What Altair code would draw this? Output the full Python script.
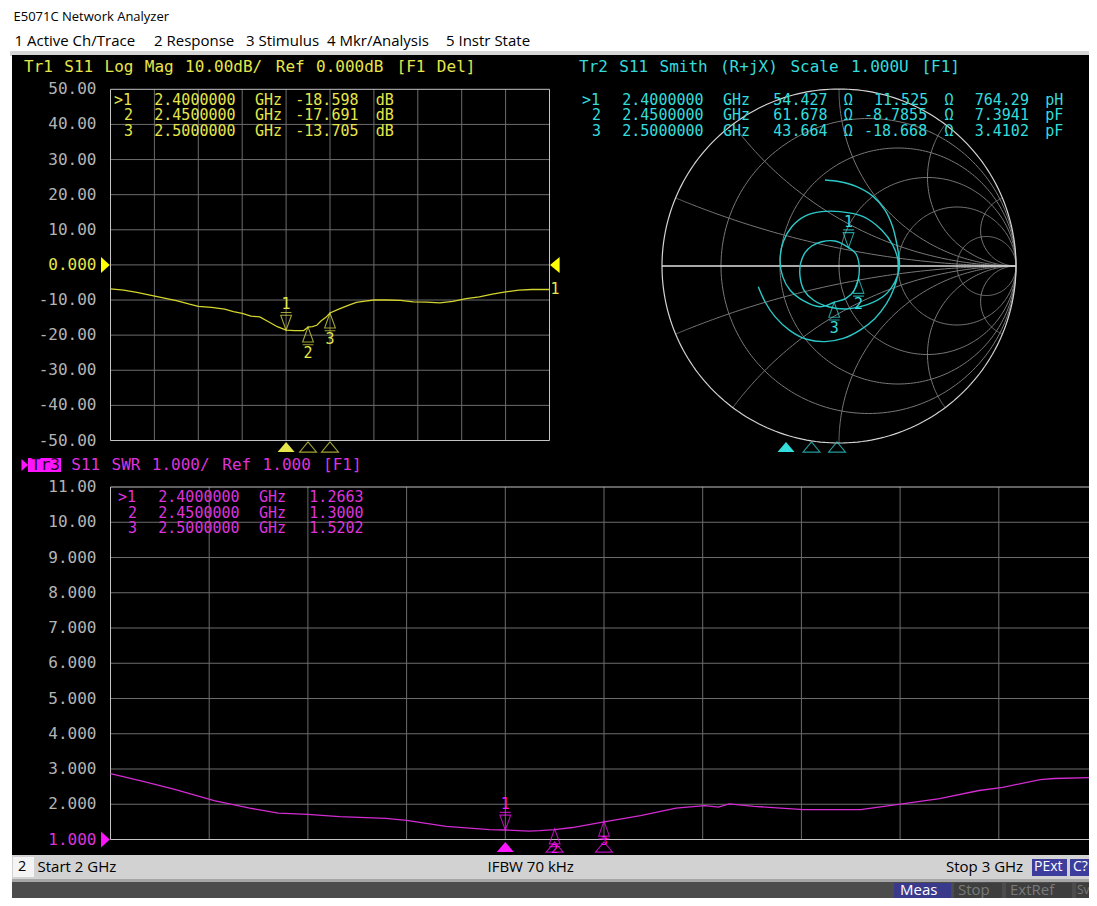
import re
import numpy as np
import pandas as pd
import altair as alt

# ---------------- data ----------------
lm_freq = [2.00, 2.03, 2.06, 2.09, 2.12, 2.15, 2.18, 2.20, 2.23, 2.26, 2.28, 2.30, 2.32, 2.34,
           2.36, 2.38, 2.40, 2.42, 2.44, 2.45, 2.46, 2.47, 2.48, 2.49, 2.50, 2.52, 2.54, 2.56,
           2.58, 2.60, 2.63, 2.66, 2.69, 2.72, 2.75, 2.78, 2.81, 2.84, 2.87, 2.90, 2.93, 2.96, 3.00]
lm_db = [-6.8, -7.2, -7.8, -8.6, -9.4, -10.2, -11.2, -11.8, -12.1, -12.6, -13.3, -13.8, -14.6, -14.8,
         -16.2, -17.6, -18.6, -18.7, -18.7, -17.7, -17.6, -17.2, -15.9, -15.0, -13.7, -12.6, -11.6, -10.7,
         -10.3, -10.0, -10.0, -10.1, -10.5, -10.6, -10.8, -10.4, -9.6, -9.1, -8.3, -7.7, -7.2, -7.0, -7.0]

swr_freq = [2.000, 2.033, 2.065, 2.105, 2.141, 2.170, 2.200, 2.232, 2.279, 2.300, 2.340, 2.384,
            2.400, 2.424, 2.435, 2.450, 2.468, 2.500, 2.537, 2.573, 2.602, 2.616, 2.627, 2.652,
            2.702, 2.760, 2.802, 2.840, 2.880, 2.904, 2.942, 2.956, 3.000]
swr_val = [2.87, 2.65, 2.42, 2.10, 1.89, 1.75, 1.71, 1.65, 1.60, 1.54, 1.37, 1.28,
           1.27, 1.24, 1.25, 1.28, 1.34, 1.50, 1.68, 1.89, 1.96, 1.92, 2.01, 1.94,
           1.85, 1.85, 2.01, 2.16, 2.39, 2.48, 2.70, 2.73, 2.76]

smith_re = [-0.079, 0.006, 0.100, 0.194, 0.260, 0.303, 0.326, 0.341, 0.339, 0.316, 0.260, 0.156,
            0.043, -0.060, -0.145, -0.198, -0.220, -0.217, -0.192, -0.154, -0.098, -0.023, 0.054,
            0.096, 0.113, 0.110, 0.085, 0.040, -0.027, -0.107, -0.202, -0.277, -0.318, -0.333,
            -0.315, -0.267, -0.192, -0.098, 0.006, 0.137, 0.241, 0.303, 0.333, 0.333, 0.311,
            0.269, 0.203, 0.119, 0.024, -0.079, -0.183, -0.277, -0.362, -0.418, -0.456]
smith_im = [0.486, 0.476, 0.448, 0.392, 0.316, 0.222, 0.128, 0.034, -0.023, -0.089, -0.164, -0.220,
            -0.243, -0.230, -0.192, -0.136, -0.060, 0.015, 0.075, 0.113, 0.137, 0.141, 0.104,
            0.068, 0.011, -0.070, -0.139, -0.183, -0.205, -0.230, -0.196, -0.136, -0.060, 0.034,
            0.137, 0.222, 0.282, 0.307, 0.307, 0.279, 0.203, 0.119, 0.034, -0.041, -0.126,
            -0.211, -0.296, -0.362, -0.409, -0.427, -0.414, -0.365, -0.286, -0.202, -0.117]

mk_name = ["1", "2", "3"]
mk_freq = [2.40, 2.45, 2.50]
mk_lm = [-18.598, -17.691, -13.705]
mk_swr = [1.2663, 1.3000, 1.5202]
mk_re = [0.054, 0.110, -0.027]
mk_im = [0.104, -0.070, -0.205]

lm_ticks = [50, 40, 30, 20, 10, 0, -10, -20, -30, -40, -50]
lm_tick_labels = ["50.00", "40.00", "30.00", "20.00", "10.00", "0.000",
                  "-10.00", "-20.00", "-30.00", "-40.00", "-50.00"]
swr_ticks = [11, 10, 9, 8, 7, 6, 5, 4, 3, 2, 1]
swr_tick_labels = ["11.00", "10.00", "9.000", "8.000", "7.000", "6.000",
                   "5.000", "4.000", "3.000", "2.000", "1.000"]
freq_grid = [2.1, 2.2, 2.3, 2.4, 2.5, 2.6, 2.7, 2.8, 2.9]
smith_r_grid = [0.2, 0.5, 1.0, 2.0, 5.0]
smith_x_grid = [0.2, 0.5, 1.0, 2.0, 5.0]

lm_title = "Tr1 S11 Log Mag 10.00dB/ Ref 0.000dB [F1 Del]"
lm_rows = [">1  2.4000000 GHz -18.598 dB",
           " 2  2.4500000 GHz -17.691 dB",
           " 3  2.5000000 GHz -13.705 dB"]
sm_title = "Tr2 S11 Smith (R+jX) Scale 1.000U [F1]"
sm_rows = [">1  2.4000000 GHz  54.427 Ω  11.525 Ω  764.29 pH",
           " 2  2.4500000 GHz  61.678 Ω -8.7855 Ω  7.3941 pF",
           " 3  2.5000000 GHz  43.664 Ω -18.668 Ω  3.4102 pF"]
swr_title = "Tr3 S11 SWR 1.000/ Ref 1.000 [F1]"
swr_rows = [">1  2.4000000 GHz  1.2663",
            " 2  2.4500000 GHz  1.3000",
            " 3  2.5000000 GHz  1.5202"]

window_title = "E5071C Network Analyzer"
menu_items = ["1 Active Ch/Trace", "2 Response", "3 Stimulus", "4 Mkr/Analysis", "5 Instr State"]
status_left = ["2", "Start 2 GHz"]
status_mid = "IFBW 70 kHz"
status_right = ["Stop 3 GHz", "PExt", "C?"]
soft_keys = ["Meas", "Stop", "ExtRef", "Sv"]

# ---------------- layout (screenshot pixels) ----------------
O = 8
def c(v):
    return v - O

MONO = "DejaVu Sans Mono"
SANS = "Open Sans"
PITCH = 10.07

LM_X = (110.5, 549.5); LM_Y = (440.5, 89.3)
SW_X = (110.5, 1097.5); SW_Y = (839.5, 487.0)
SM_CX, SM_CY, SM_R = 839.0, 266.0, 177.0
SM_F = (582.0, 1092.0)

GRID = "#6c6c6c"; BORDER = "#c4c4c4"; LABEL = "#b4b4b4"
YEL_T = "#e6e64a"; YEL_L = "#d4d42e"
CYA_T = "#34dcdc"; CYA_L = "#2cc8c8"
MAG_T = "#dc34dc"; MAG_L = "#d22cd2"; MAG_BOX = "#ff14ff"


def scale(dom, rng):
    return alt.Scale(domain=list(dom), range=[c(r) for r in rng], nice=False, zero=False)


sx_lm = scale((2, 3), LM_X); sy_lm = scale((-50, 50), LM_Y)
sx_sw = scale((2, 3), SW_X); sy_sw = scale((1, 11), SW_Y)
sx_sm = scale((-1, 1), (SM_CX - SM_R, SM_CX + SM_R))
sy_sm = scale((-1, 1), (SM_CY + SM_R, SM_CY - SM_R))
sx_smf = scale((2, 3), SM_F)

dummy = pd.DataFrame({"d": [0]})
layers = []


def rect_layer(rects):
    df = pd.DataFrame([dict(x=c(a), x2=c(b), y=c(y0), y2=c(y1), col=col) for a, b, y0, y1, col in rects])
    return alt.Chart(df).mark_rect().encode(
        x=alt.X("x:Q", scale=None, axis=None), x2="x2:Q",
        y=alt.Y("y:Q", scale=None, axis=None), y2="y2:Q",
        color=alt.Color("col:N", scale=None))


# ---------------- background rectangles ----------------
layers.append(rect_layer([
    (10, 1097, 51, 56, "#d6d6d6"),
    (12, 1097, 55, 855, "#000000"),
    (28, 61, 458, 472, MAG_BOX),
]))

# ---------------- grids and borders ----------------
def cart_grid(sx, sy, xr, yr, ticks, dom_x, dom_y):
    out = []
    out.append(alt.Chart(pd.DataFrame({"f": freq_grid})).mark_rule(color=GRID, strokeWidth=1).encode(
        x=alt.X("f:Q", scale=sx, axis=None), y=alt.value(c(yr[1])), y2=alt.value(c(yr[0]))))
    inner = [t for t in ticks if t not in (min(ticks), max(ticks))]
    out.append(alt.Chart(pd.DataFrame({"v": inner})).mark_rule(color=GRID, strokeWidth=1).encode(
        y=alt.Y("v:Q", scale=sy, axis=None), x=alt.value(c(xr[0])), x2=alt.value(c(xr[1]))))
    out.append(alt.Chart(pd.DataFrame({"a": [dom_x[0]], "b": [dom_x[1]], "lo": [dom_y[0]], "hi": [dom_y[1]]}))
               .mark_rect(fillOpacity=0, stroke=BORDER, strokeWidth=1).encode(
        x=alt.X("a:Q", scale=sx, axis=None), x2="b:Q",
        y=alt.Y("lo:Q", scale=sy, axis=None), y2="hi:Q"))
    return out

layers += cart_grid(sx_lm, sy_lm, LM_X, LM_Y, lm_ticks, (2, 3), (-50, 50))
layers += cart_grid(sx_sw, sy_sw, SW_X, SW_Y, swr_ticks, (2, 3), (1, 11))

# Smith chart grid
rows = []
gid = 0
th = np.linspace(0, 2 * np.pi, 241)
for r in smith_r_grid:
    cx, rad = r / (r + 1), 1 / (r + 1)
    for i, t in enumerate(th):
        rows.append(dict(gx=cx + rad * np.cos(t), gy=rad * np.sin(t), id=gid, i=i))
    gid += 1
rr = np.concatenate([[0.0], np.logspace(-2.5, 3.5, 220)])
for xv in smith_x_grid:
    for s in (1, -1):
        z = rr + 1j * s * xv
        g = (z - 1) / (z + 1)
        for i, gg in enumerate(g):
            rows.append(dict(gx=gg.real, gy=gg.imag, id=gid, i=i))
        gid += 1
df_sg = pd.DataFrame(rows)
layers.append(alt.Chart(df_sg).mark_line(color="#787878", strokeWidth=1).encode(
    x=alt.X("gx:Q", scale=sx_sm, axis=None), y=alt.Y("gy:Q", scale=sy_sm, axis=None),
    detail="id:N", order="i:Q"))
df_outer = pd.DataFrame(dict(gx=np.cos(th), gy=np.sin(th), i=np.arange(len(th))))
layers.append(alt.Chart(df_outer).mark_line(color="#d4d4d4", strokeWidth=1.2).encode(
    x=alt.X("gx:Q", scale=sx_sm, axis=None), y=alt.Y("gy:Q", scale=sy_sm, axis=None), order="i:Q"))
layers.append(alt.Chart(pd.DataFrame({"a": [-1], "b": [1], "y": [0]})).mark_rule(color="#e0e0e0", strokeWidth=1.5).encode(
    x=alt.X("a:Q", scale=sx_sm, axis=None), x2="b:Q", y=alt.Y("y:Q", scale=sy_sm, axis=None)))

# ---------------- axis labels ----------------
for ticks, labs, sy, hi_val, hi_col in [(lm_ticks, lm_tick_labels, sy_lm, 0, YEL_T),
                                         (swr_ticks, swr_tick_labels, sy_sw, 1, MAG_T)]:
    df = pd.DataFrame({"v": ticks, "lab": labs,
                       "col": [hi_col if t == hi_val else LABEL for t in ticks]})
    layers.append(alt.Chart(df).mark_text(align="right", baseline="middle", font=MONO, fontSize=16).encode(
        x=alt.value(c(96.5)), y=alt.Y("v:Q", scale=sy, axis=None), text="lab:N",
        color=alt.Color("col:N", scale=None)))

# ---------------- traces ----------------
layers.append(alt.Chart(pd.DataFrame({"f": lm_freq, "v": lm_db})).mark_line(color=YEL_L, strokeWidth=1.3).encode(
    x=alt.X("f:Q", scale=sx_lm, axis=None), y=alt.Y("v:Q", scale=sy_lm, axis=None)))
layers.append(alt.Chart(pd.DataFrame({"f": swr_freq, "v": swr_val})).mark_line(color=MAG_L, strokeWidth=1.3).encode(
    x=alt.X("f:Q", scale=sx_sw, axis=None), y=alt.Y("v:Q", scale=sy_sw, axis=None)))
layers.append(alt.Chart(pd.DataFrame({"re": smith_re, "im": smith_im, "i": range(len(smith_re))}))
              .mark_line(color=CYA_L, strokeWidth=1.4, interpolate="catmull-rom").encode(
    x=alt.X("re:Q", scale=sx_sm, axis=None), y=alt.Y("im:Q", scale=sy_sm, axis=None), order="i:Q"))

# ---------------- markers ----------------
DOWN = "M0,0L-0.36,-1L0.36,-1Z M-0.36,-1.18L0.36,-1.18"
UP = "M0,0L-0.36,1L0.36,1Z M-0.36,1.18L0.36,1.18"
IND = "M0,-0.3L0.5,0.3L-0.5,0.3Z"
RIGHT_TRI = "M0,-0.5L0.55,0L0,0.5Z"
LEFT_TRI = "M0,0L0.6,-0.5L0.6,0.5Z"
MSIZE = 900
ISIZE = 1156

df_mk = pd.DataFrame({"n": mk_name, "f": mk_freq, "lm": mk_lm, "swr": mk_swr, "re": mk_re, "im": mk_im})
act = df_mk.iloc[:1]
oth = df_mk.iloc[1:]


def marker_layers(xenc, yenc, col, ind_x, ind_y, lab_dy=26, lab_fs=15):
    out = []
    out.append(alt.Chart(act).mark_point(shape=DOWN, filled=False, size=MSIZE, strokeWidth=1.1, color=col).encode(
        x=xenc, y=yenc))
    out.append(alt.Chart(oth).mark_point(shape=UP, filled=False, size=MSIZE, strokeWidth=1.1, color=col).encode(
        x=xenc, y=yenc))
    out.append(alt.Chart(act).mark_text(font=MONO, fontSize=15, color=col, baseline="middle", dy=-26).encode(
        x=xenc, y=yenc, text="n:N"))
    out.append(alt.Chart(oth).mark_text(font=MONO, fontSize=lab_fs, color=col, baseline="middle", dy=lab_dy).encode(
        x=xenc, y=yenc, text="n:N"))
    out.append(alt.Chart(act).mark_point(shape=IND, filled=True, size=ISIZE, color=col, opacity=1).encode(
        x=ind_x, y=alt.value(c(ind_y))))
    out.append(alt.Chart(oth).mark_point(shape=IND, filled=False, size=ISIZE, strokeWidth=1.1, color=col).encode(
        x=ind_x, y=alt.value(c(ind_y))))
    return out

layers += marker_layers(alt.X("f:Q", scale=sx_lm, axis=None), alt.Y("lm:Q", scale=sy_lm, axis=None),
                        YEL_T, alt.X("f:Q", scale=sx_lm, axis=None), 447)
layers += marker_layers(alt.X("f:Q", scale=sx_sw, axis=None), alt.Y("swr:Q", scale=sy_sw, axis=None),
                        MAG_BOX, alt.X("f:Q", scale=sx_sw, axis=None), 847, lab_dy=20, lab_fs=12)
layers += marker_layers(alt.X("re:Q", scale=sx_sm, axis=None), alt.Y("im:Q", scale=sy_sm, axis=None),
                        CYA_T, alt.X("f:Q", scale=sx_smf, axis=None), 447)

# reference-level triangles
layers.append(alt.Chart(pd.DataFrame({"v": [0]})).mark_point(shape=RIGHT_TRI, filled=True, size=1024, color="#ffff00", opacity=1).encode(
    x=alt.value(c(101)), y=alt.Y("v:Q", scale=sy_lm, axis=None)))
layers.append(alt.Chart(pd.DataFrame({"v": [0]})).mark_point(shape=LEFT_TRI, filled=True, size=1024, color="#ffff00", opacity=1).encode(
    x=alt.value(c(550)), y=alt.Y("v:Q", scale=sy_lm, axis=None)))
layers.append(alt.Chart(pd.DataFrame({"v": [1]})).mark_point(shape=RIGHT_TRI, filled=True, size=1024, color=MAG_BOX, opacity=1).encode(
    x=alt.value(c(101)), y=alt.Y("v:Q", scale=sy_sw, axis=None)))
layers.append(alt.Chart(dummy).mark_point(shape=RIGHT_TRI, filled=True, size=576, color=MAG_BOX, opacity=1).encode(
    x=alt.value(c(21.5)), y=alt.value(c(465))))
# trace number at end of Tr1
layers.append(alt.Chart(pd.DataFrame({"f": [lm_freq[-1]], "v": [lm_db[-1]], "n": ["1"]}))
              .mark_text(font=MONO, fontSize=15, color=YEL_T, baseline="middle", align="left", dx=1).encode(
    x=alt.X("f:Q", scale=sx_lm, axis=None), y=alt.Y("v:Q", scale=sy_lm, axis=None), text="n:N"))

# ---------------- monospaced screen text ----------------
titles, readouts = [], []
def add_line(target, line, x0, y, col, skip_first=False):
    for k, m in enumerate(re.finditer(r"\S+", line)):
        if skip_first and k == 0:
            continue
        target.append(dict(t=m.group(), px=c(x0 + m.start() * PITCH), py=c(y), col=col))

add_line(titles, lm_title, 24, 67, YEL_T)
add_line(titles, sm_title, 579, 67, CYA_T)
add_line(titles, swr_title, 31, 465, MAG_T, skip_first=True)
titles.append(dict(t=swr_title.split()[0], px=c(31), py=c(465), col="#1a001a"))
for k, ln in enumerate(lm_rows):
    add_line(readouts, ln, 114, 99.5 + 15.5 * k, YEL_T)
for k, ln in enumerate(sm_rows):
    add_line(readouts, ln, 582, 99.5 + 15.5 * k, CYA_T)
for k, ln in enumerate(swr_rows):
    add_line(readouts, ln, 118, 497 + 15.5 * k, MAG_T)

for tab, fs in [(titles, 16), (readouts, 15)]:
    layers.append(alt.Chart(pd.DataFrame(tab)).mark_text(align="left", baseline="middle", font=MONO, fontSize=fs).encode(
        x=alt.X("px:Q", scale=None, axis=None), y=alt.Y("py:Q", scale=None, axis=None), text="t:N",
        color=alt.Color("col:N", scale=None)))

# ---------------- status bars (drawn over the bottom markers) ----------------
layers.append(rect_layer([
    (12, 1097, 855, 879, "#d2d2d2"),
    (13, 34, 857, 877, "#f4f4f4"),
    (1032, 1067, 859, 876, "#3d3d9e"),
    (1070, 1097, 859, 876, "#3d3d9e"),
    (12, 1097, 879, 882, "#a6a6a6"),
    (12, 1097, 882, 906, "#4c4c4c"),
    (894, 951, 883, 906, "#3a3a8c"),
    (954, 1002, 883, 906, "#3e3e3e"),
    (1006, 1072, 883, 906, "#3e3e3e"),
    (1076, 1097, 883, 906, "#3e3e3e"),
]))

# ---------------- window chrome text ----------------
top = [dict(t=window_title, px=c(13.5), py=c(17), col="#000000", fs=13)]
for t, x in zip(menu_items, [14.5, 154, 246, 327, 446]):
    top.append(dict(t=t, px=c(x), py=c(41), col="#000000", fs=15))
top.append(dict(t=status_left[0], px=c(18), py=c(867), col="#000000", fs=14.5))
top.append(dict(t=status_left[1], px=c(37.5), py=c(867), col="#000000", fs=15))
top.append(dict(t=status_mid, px=c(487.5), py=c(867), col="#000000", fs=15))
top.append(dict(t=status_right[0], px=c(946), py=c(867), col="#000000", fs=15))
top.append(dict(t=status_right[1], px=c(1034), py=c(867), col="#ffffff", fs=14))
top.append(dict(t=status_right[2], px=c(1073), py=c(867), col="#ffffff", fs=14))
for t, x, col, fs in zip(soft_keys, [900, 958, 1010, 1077], ["#ffffff", "#7a7a7a", "#7a7a7a", "#7a7a7a"],
                         [15, 15, 15, 12]):
    top.append(dict(t=t, px=c(x), py=c(889.5), col=col, fs=fs))
layers.append(alt.Chart(pd.DataFrame(top)).mark_text(align="left", baseline="middle", font=SANS).encode(
    x=alt.X("px:Q", scale=None, axis=None), y=alt.Y("py:Q", scale=None, axis=None), text="t:N",
    color=alt.Color("col:N", scale=None), size=alt.Size("fs:Q", scale=None, legend=None)))

chart = alt.layer(*layers).resolve_scale(x="independent", y="independent").properties(
    width=1081, height=890, padding=0, autosize=alt.AutoSizeParams(type="none"), background="#ffffff"
).configure_view(stroke=None)

chart.save("out.html", embed_options={"renderer": "svg", "actions": False})
